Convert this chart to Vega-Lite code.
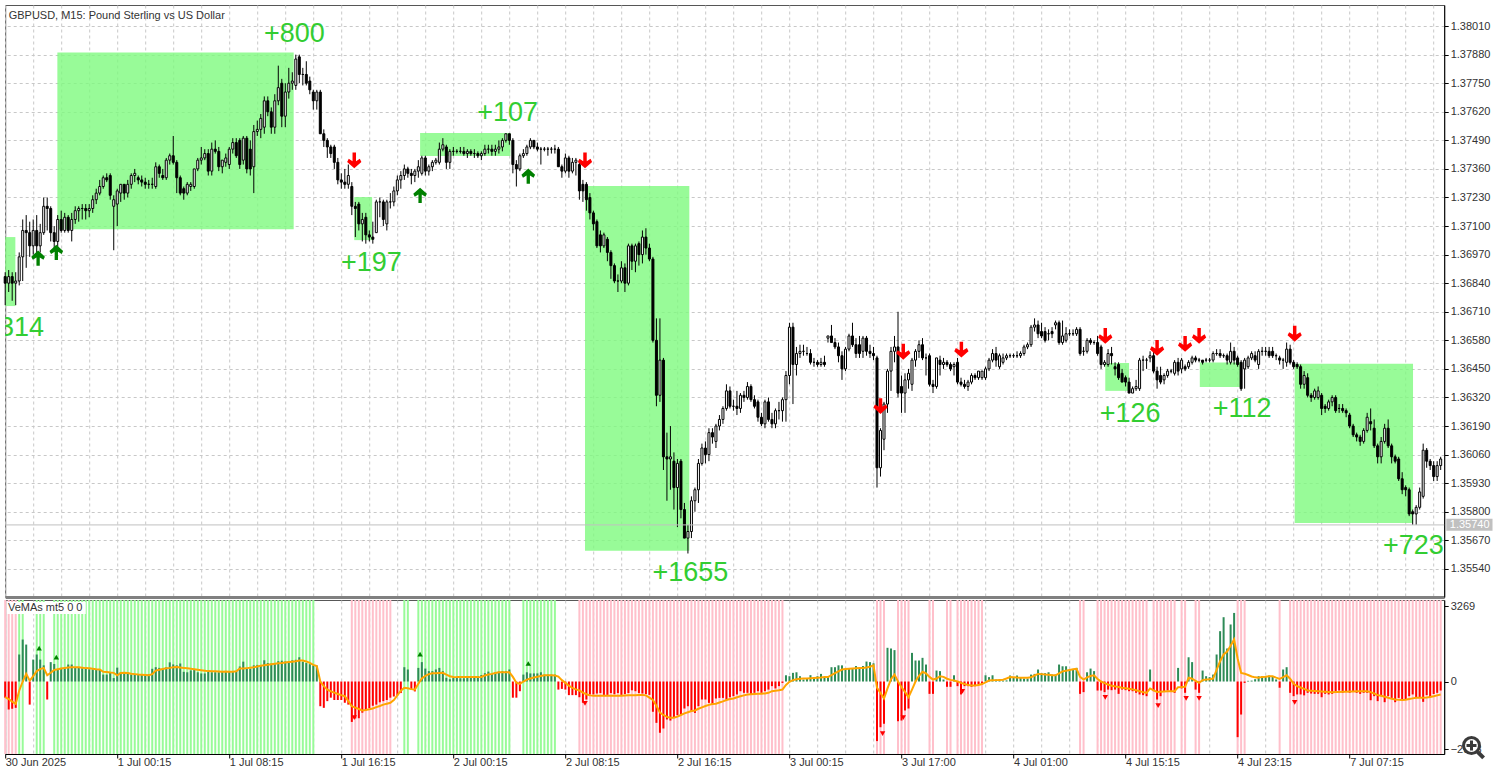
{"$schema":"https://vega.github.io/schema/vega-lite/v6.json","background":"white","padding":{"left":0.2,"top":4,"right":0,"bottom":0},"spacing":0,"config":{"view":{"stroke":"#555555","strokeWidth":1},"axis":{"labelFont":"Liberation Sans","labelFontSize":11,"labelColor":"#333333"}},
"datasets":{"bars":[
{"i":0,"o":1.3687,"h":1.3689,"l":1.3674,"c":1.3684,"v":-700,"m":-680,"s":-1},
{"i":1,"o":1.3684,"h":1.3690,"l":1.3680,"c":1.3687,"v":-1212,"m":-760,"s":-1},
{"i":2,"o":1.3687,"h":1.3689,"l":1.3676,"c":1.3684,"v":-1180,"m":-870,"s":-1},
{"i":3,"o":1.3684,"h":1.3689,"l":1.3674,"c":1.3685,"v":-1140,"m":-970,"s":-1},
{"i":4,"o":1.3685,"h":1.3698,"l":1.3683,"c":1.3696,"v":1170,"m":-400,"s":1},
{"i":5,"o":1.3696,"h":1.3713,"l":1.3685,"c":1.3708,"v":1818,"m":0,"s":1},
{"i":6,"o":1.3708,"h":1.3715,"l":1.3691,"c":1.3707,"v":1600,"m":330,"s":0},
{"i":7,"o":1.3707,"h":1.3712,"l":1.3696,"c":1.3701,"v":-1000,"m":40,"s":0},
{"i":8,"o":1.3701,"h":1.3713,"l":1.3697,"c":1.3708,"v":950,"m":230,"s":0},
{"i":9,"o":1.3708,"h":1.3715,"l":1.3697,"c":1.3701,"v":1170,"m":450,"s":1},
{"i":10,"o":1.3701,"h":1.3711,"l":1.3698,"c":1.3707,"v":950,"m":540,"s":1},
{"i":11,"o":1.3707,"h":1.3723,"l":1.3706,"c":1.3719,"v":700,"m":590,"s":1},
{"i":12,"o":1.3719,"h":1.3723,"l":1.3708,"c":1.3718,"v":-780,"m":270,"s":0},
{"i":13,"o":1.3718,"h":1.3719,"l":1.3703,"c":1.3707,"v":840,"m":380,"s":0},
{"i":14,"o":1.3707,"h":1.3710,"l":1.3699,"c":1.3703,"v":760,"m":500,"s":1},
{"i":15,"o":1.3703,"h":1.3715,"l":1.3699,"c":1.3713,"v":520,"m":530,"s":1},
{"i":16,"o":1.3713,"h":1.3717,"l":1.3707,"c":1.3708,"v":590,"m":560,"s":1},
{"i":17,"o":1.3708,"h":1.3716,"l":1.3707,"c":1.3714,"v":590,"m":590,"s":1},
{"i":18,"o":1.3714,"h":1.3715,"l":1.3707,"c":1.3708,"v":735,"m":610,"s":1},
{"i":19,"o":1.3708,"h":1.3716,"l":1.3703,"c":1.3713,"v":735,"m":620,"s":1},
{"i":20,"o":1.3713,"h":1.3719,"l":1.3711,"c":1.3717,"v":620,"m":620,"s":1},
{"i":21,"o":1.3717,"h":1.3719,"l":1.3712,"c":1.3718,"v":600,"m":620,"s":1},
{"i":22,"o":1.3718,"h":1.3720,"l":1.3713,"c":1.3718,"v":580,"m":600,"s":1},
{"i":23,"o":1.3718,"h":1.3720,"l":1.3713,"c":1.3717,"v":560,"m":580,"s":1},
{"i":24,"o":1.3717,"h":1.3720,"l":1.3714,"c":1.3718,"v":530,"m":570,"s":1},
{"i":25,"o":1.3718,"h":1.3724,"l":1.3716,"c":1.3722,"v":520,"m":550,"s":1},
{"i":26,"o":1.3722,"h":1.3727,"l":1.3720,"c":1.3725,"v":510,"m":530,"s":1},
{"i":27,"o":1.3725,"h":1.3731,"l":1.3724,"c":1.3728,"v":500,"m":520,"s":1},
{"i":28,"o":1.3728,"h":1.3733,"l":1.3727,"c":1.3732,"v":300,"m":420,"s":1},
{"i":29,"o":1.3732,"h":1.3734,"l":1.3730,"c":1.3731,"v":300,"m":410,"s":1},
{"i":30,"o":1.3733,"h":1.3734,"l":1.3722,"c":1.3724,"v":400,"m":390,"s":1},
{"i":31,"o":1.3719,"h":1.3724,"l":1.3699,"c":1.3722,"v":150,"m":375,"s":1},
{"i":32,"o":1.3720,"h":1.3727,"l":1.3710,"c":1.3726,"v":600,"m":270,"s":1},
{"i":33,"o":1.3725,"h":1.3729,"l":1.3721,"c":1.3729,"v":400,"m":370,"s":1},
{"i":34,"o":1.3729,"h":1.3729,"l":1.3722,"c":1.3725,"v":400,"m":375,"s":1},
{"i":35,"o":1.3725,"h":1.3731,"l":1.3723,"c":1.3729,"v":380,"m":370,"s":1},
{"i":36,"o":1.3729,"h":1.3734,"l":1.3727,"c":1.3733,"v":300,"m":340,"s":1},
{"i":37,"o":1.3733,"h":1.3736,"l":1.3730,"c":1.3734,"v":320,"m":320,"s":1},
{"i":38,"o":1.3732,"h":1.3733,"l":1.3729,"c":1.3731,"v":320,"m":300,"s":1},
{"i":39,"o":1.3731,"h":1.3733,"l":1.3728,"c":1.3730,"v":300,"m":290,"s":1},
{"i":40,"o":1.3730,"h":1.3732,"l":1.3727,"c":1.3729,"v":300,"m":280,"s":1},
{"i":41,"o":1.3729,"h":1.3731,"l":1.3727,"c":1.3729,"v":310,"m":270,"s":1},
{"i":42,"o":1.3729,"h":1.3732,"l":1.3727,"c":1.3729,"v":550,"m":320,"s":1},
{"i":43,"o":1.3728,"h":1.3739,"l":1.3727,"c":1.3737,"v":620,"m":475,"s":1},
{"i":44,"o":1.3737,"h":1.3738,"l":1.3732,"c":1.3734,"v":590,"m":510,"s":1},
{"i":45,"o":1.3733,"h":1.3736,"l":1.3731,"c":1.3732,"v":560,"m":540,"s":1},
{"i":46,"o":1.3732,"h":1.3741,"l":1.3731,"c":1.3740,"v":620,"m":570,"s":1},
{"i":47,"o":1.3740,"h":1.3743,"l":1.3738,"c":1.3742,"v":830,"m":590,"s":1},
{"i":48,"o":1.3742,"h":1.3751,"l":1.3738,"c":1.3739,"v":740,"m":620,"s":1},
{"i":49,"o":1.3739,"h":1.3740,"l":1.3725,"c":1.3732,"v":700,"m":625,"s":1},
{"i":50,"o":1.3732,"h":1.3733,"l":1.3724,"c":1.3725,"v":780,"m":610,"s":1},
{"i":51,"o":1.3727,"h":1.3728,"l":1.3722,"c":1.3725,"v":420,"m":590,"s":1},
{"i":52,"o":1.3725,"h":1.3730,"l":1.3724,"c":1.3729,"v":400,"m":570,"s":1},
{"i":53,"o":1.3728,"h":1.3730,"l":1.3726,"c":1.3729,"v":480,"m":550,"s":1},
{"i":54,"o":1.3728,"h":1.3736,"l":1.3727,"c":1.3736,"v":520,"m":530,"s":1},
{"i":55,"o":1.3736,"h":1.3741,"l":1.3735,"c":1.3740,"v":400,"m":510,"s":1},
{"i":56,"o":1.3740,"h":1.3746,"l":1.3738,"c":1.3741,"v":350,"m":490,"s":1},
{"i":57,"o":1.3741,"h":1.3745,"l":1.3740,"c":1.3743,"v":350,"m":470,"s":1},
{"i":58,"o":1.3743,"h":1.3745,"l":1.3733,"c":1.3735,"v":420,"m":450,"s":1},
{"i":59,"o":1.3735,"h":1.3748,"l":1.3733,"c":1.3745,"v":400,"m":440,"s":1},
{"i":60,"o":1.3745,"h":1.3749,"l":1.3743,"c":1.3744,"v":400,"m":440,"s":1},
{"i":61,"o":1.3744,"h":1.3746,"l":1.3735,"c":1.3737,"v":400,"m":430,"s":1},
{"i":62,"o":1.3737,"h":1.3740,"l":1.3734,"c":1.3740,"v":440,"m":420,"s":1},
{"i":63,"o":1.3739,"h":1.3743,"l":1.3737,"c":1.3741,"v":450,"m":430,"s":1},
{"i":64,"o":1.3738,"h":1.3746,"l":1.3736,"c":1.3745,"v":440,"m":420,"s":1},
{"i":65,"o":1.3745,"h":1.3750,"l":1.3743,"c":1.3748,"v":420,"m":420,"s":1},
{"i":66,"o":1.3748,"h":1.3750,"l":1.3741,"c":1.3742,"v":460,"m":440,"s":1},
{"i":67,"o":1.3749,"h":1.3750,"l":1.3736,"c":1.3738,"v":650,"m":560,"s":1},
{"i":68,"o":1.3740,"h":1.3751,"l":1.3738,"c":1.3750,"v":860,"m":560,"s":1},
{"i":69,"o":1.3750,"h":1.3751,"l":1.3734,"c":1.3736,"v":550,"m":580,"s":1},
{"i":70,"o":1.3745,"h":1.3749,"l":1.3733,"c":1.3736,"v":560,"m":600,"s":1},
{"i":71,"o":1.3737,"h":1.3756,"l":1.3725,"c":1.3753,"v":700,"m":620,"s":1},
{"i":72,"o":1.3753,"h":1.3758,"l":1.3751,"c":1.3754,"v":720,"m":650,"s":1},
{"i":73,"o":1.3754,"h":1.3761,"l":1.3750,"c":1.3759,"v":700,"m":680,"s":1},
{"i":74,"o":1.3755,"h":1.3769,"l":1.3752,"c":1.3767,"v":920,"m":700,"s":1},
{"i":75,"o":1.3767,"h":1.3769,"l":1.3760,"c":1.3762,"v":800,"m":730,"s":1},
{"i":76,"o":1.3762,"h":1.3764,"l":1.3752,"c":1.3755,"v":780,"m":750,"s":1},
{"i":77,"o":1.3755,"h":1.3770,"l":1.3752,"c":1.3767,"v":760,"m":770,"s":1},
{"i":78,"o":1.3767,"h":1.3783,"l":1.3765,"c":1.3773,"v":880,"m":790,"s":1},
{"i":79,"o":1.3775,"h":1.3777,"l":1.3755,"c":1.3760,"v":900,"m":800,"s":1},
{"i":80,"o":1.3760,"h":1.3775,"l":1.3755,"c":1.3771,"v":870,"m":820,"s":1},
{"i":81,"o":1.3771,"h":1.3782,"l":1.3768,"c":1.3775,"v":880,"m":840,"s":1},
{"i":82,"o":1.3775,"h":1.3780,"l":1.3772,"c":1.3776,"v":920,"m":860,"s":1},
{"i":83,"o":1.3774,"h":1.3788,"l":1.3772,"c":1.3786,"v":940,"m":880,"s":1},
{"i":84,"o":1.3787,"h":1.3788,"l":1.3775,"c":1.3779,"v":1050,"m":905,"s":1},
{"i":85,"o":1.3779,"h":1.3782,"l":1.3774,"c":1.3779,"v":850,"m":905,"s":1},
{"i":86,"o":1.3779,"h":1.3785,"l":1.3774,"c":1.3775,"v":800,"m":870,"s":1},
{"i":87,"o":1.3776,"h":1.3778,"l":1.3770,"c":1.3772,"v":750,"m":810,"s":1},
{"i":88,"o":1.3771,"h":1.3772,"l":1.3763,"c":1.3767,"v":690,"m":720,"s":1},
{"i":89,"o":1.3767,"h":1.3772,"l":1.3763,"c":1.3771,"v":690,"m":670,"s":0},
{"i":90,"o":1.3771,"h":1.3772,"l":1.3752,"c":1.3752,"v":-1070,"m":0,"s":0},
{"i":91,"o":1.3752,"h":1.3754,"l":1.3746,"c":1.3749,"v":-1140,"m":-200,"s":0},
{"i":92,"o":1.3749,"h":1.3750,"l":1.3741,"c":1.3746,"v":-850,"m":-350,"s":0},
{"i":93,"o":1.3746,"h":1.3747,"l":1.3741,"c":1.3743,"v":-700,"m":-420,"s":0},
{"i":94,"o":1.3746,"h":1.3747,"l":1.3736,"c":1.3739,"v":-800,"m":-480,"s":0},
{"i":95,"o":1.3739,"h":1.3741,"l":1.3729,"c":1.3731,"v":-800,"m":-540,"s":0},
{"i":96,"o":1.3731,"h":1.3734,"l":1.3727,"c":1.3730,"v":-800,"m":-590,"s":0},
{"i":97,"o":1.3730,"h":1.3736,"l":1.3727,"c":1.3729,"v":-920,"m":-635,"s":0},
{"i":98,"o":1.3729,"h":1.3738,"l":1.3727,"c":1.3733,"v":-1000,"m":-850,"s":0},
{"i":99,"o":1.3728,"h":1.3730,"l":1.3715,"c":1.3719,"v":-1750,"m":-1070,"s":-1},
{"i":100,"o":1.3719,"h":1.3721,"l":1.3705,"c":1.3718,"v":-1600,"m":-1130,"s":-1},
{"i":101,"o":1.3720,"h":1.3721,"l":1.3708,"c":1.3711,"v":-1590,"m":-1190,"s":-1},
{"i":102,"o":1.3711,"h":1.3716,"l":1.3703,"c":1.3713,"v":-1350,"m":-1255,"s":-1},
{"i":103,"o":1.3714,"h":1.3716,"l":1.3702,"c":1.3706,"v":-1250,"m":-1230,"s":-1},
{"i":104,"o":1.3706,"h":1.3708,"l":1.3703,"c":1.3705,"v":-1150,"m":-1200,"s":-1},
{"i":105,"o":1.3705,"h":1.3712,"l":1.3702,"c":1.3704,"v":-1050,"m":-1170,"s":-1},
{"i":106,"o":1.3707,"h":1.3722,"l":1.3707,"c":1.3721,"v":-1000,"m":-1110,"s":-1},
{"i":107,"o":1.3721,"h":1.3723,"l":1.3714,"c":1.3721,"v":-900,"m":-1060,"s":-1},
{"i":108,"o":1.3721,"h":1.3722,"l":1.3710,"c":1.3713,"v":-850,"m":-1000,"s":-1},
{"i":109,"o":1.3711,"h":1.3722,"l":1.3708,"c":1.3721,"v":-800,"m":-960,"s":-1},
{"i":110,"o":1.3721,"h":1.3725,"l":1.3718,"c":1.3721,"v":-700,"m":-920,"s":-1},
{"i":111,"o":1.3721,"h":1.3728,"l":1.3719,"c":1.3726,"v":-650,"m":-800,"s":0},
{"i":112,"o":1.3726,"h":1.3733,"l":1.3724,"c":1.3731,"v":-600,"m":-600,"s":0},
{"i":113,"o":1.3731,"h":1.3735,"l":1.3727,"c":1.3733,"v":-500,"m":-400,"s":0},
{"i":114,"o":1.3733,"h":1.3738,"l":1.3731,"c":1.3736,"v":620,"m":-270,"s":1},
{"i":115,"o":1.3736,"h":1.3737,"l":1.3732,"c":1.3734,"v":520,"m":-290,"s":1},
{"i":116,"o":1.3734,"h":1.3736,"l":1.3729,"c":1.3733,"v":-350,"m":-330,"s":0},
{"i":117,"o":1.3733,"h":1.3736,"l":1.3730,"c":1.3735,"v":-430,"m":-350,"s":0},
{"i":118,"o":1.3735,"h":1.3740,"l":1.3732,"c":1.3737,"v":590,"m":-100,"s":1},
{"i":119,"o":1.3734,"h":1.3742,"l":1.3733,"c":1.3741,"v":840,"m":130,"s":1},
{"i":120,"o":1.3741,"h":1.3742,"l":1.3733,"c":1.3735,"v":560,"m":240,"s":1},
{"i":121,"o":1.3735,"h":1.3738,"l":1.3733,"c":1.3737,"v":450,"m":320,"s":1},
{"i":122,"o":1.3737,"h":1.3740,"l":1.3735,"c":1.3739,"v":450,"m":360,"s":1},
{"i":123,"o":1.3739,"h":1.3741,"l":1.3738,"c":1.3740,"v":520,"m":360,"s":1},
{"i":124,"o":1.3739,"h":1.3748,"l":1.3738,"c":1.3745,"v":590,"m":370,"s":1},
{"i":125,"o":1.3745,"h":1.3750,"l":1.3744,"c":1.3747,"v":450,"m":375,"s":1},
{"i":126,"o":1.3746,"h":1.3747,"l":1.3736,"c":1.3739,"v":160,"m":300,"s":1},
{"i":127,"o":1.3739,"h":1.3745,"l":1.3736,"c":1.3744,"v":100,"m":230,"s":1},
{"i":128,"o":1.3744,"h":1.3746,"l":1.3742,"c":1.3744,"v":150,"m":200,"s":1},
{"i":129,"o":1.3744,"h":1.3745,"l":1.3743,"c":1.3744,"v":150,"m":190,"s":1},
{"i":130,"o":1.3744,"h":1.3746,"l":1.3743,"c":1.3744,"v":140,"m":190,"s":1},
{"i":131,"o":1.3744,"h":1.3746,"l":1.3742,"c":1.3743,"v":140,"m":190,"s":1},
{"i":132,"o":1.3743,"h":1.3745,"l":1.3741,"c":1.3744,"v":150,"m":190,"s":1},
{"i":133,"o":1.3744,"h":1.3745,"l":1.3742,"c":1.3743,"v":150,"m":190,"s":1},
{"i":134,"o":1.3743,"h":1.3745,"l":1.3741,"c":1.3743,"v":180,"m":190,"s":1},
{"i":135,"o":1.3743,"h":1.3744,"l":1.3741,"c":1.3742,"v":230,"m":190,"s":1},
{"i":136,"o":1.3742,"h":1.3744,"l":1.3740,"c":1.3743,"v":280,"m":200,"s":1},
{"i":137,"o":1.3743,"h":1.3747,"l":1.3742,"c":1.3745,"v":360,"m":260,"s":1},
{"i":138,"o":1.3745,"h":1.3747,"l":1.3743,"c":1.3745,"v":430,"m":300,"s":1},
{"i":139,"o":1.3745,"h":1.3747,"l":1.3742,"c":1.3744,"v":320,"m":330,"s":1},
{"i":140,"o":1.3744,"h":1.3747,"l":1.3742,"c":1.3745,"v":400,"m":370,"s":1},
{"i":141,"o":1.3745,"h":1.3749,"l":1.3743,"c":1.3746,"v":430,"m":400,"s":1},
{"i":142,"o":1.3746,"h":1.3750,"l":1.3744,"c":1.3749,"v":450,"m":400,"s":1},
{"i":143,"o":1.3749,"h":1.3752,"l":1.3748,"c":1.3752,"v":450,"m":400,"s":1},
{"i":144,"o":1.3752,"h":1.3752,"l":1.3747,"c":1.3749,"v":520,"m":400,"s":1},
{"i":145,"o":1.3749,"h":1.3750,"l":1.3734,"c":1.3738,"v":-700,"m":200,"s":0},
{"i":146,"o":1.3738,"h":1.3740,"l":1.3728,"c":1.3736,"v":-700,"m":-50,"s":0},
{"i":147,"o":1.3736,"h":1.3743,"l":1.3735,"c":1.3742,"v":-420,"m":-100,"s":0},
{"i":148,"o":1.3742,"h":1.3745,"l":1.3741,"c":1.3743,"v":300,"m":0,"s":1},
{"i":149,"o":1.3743,"h":1.3747,"l":1.3742,"c":1.3746,"v":400,"m":80,"s":1},
{"i":150,"o":1.3746,"h":1.3750,"l":1.3745,"c":1.3749,"v":350,"m":130,"s":1},
{"i":151,"o":1.3749,"h":1.3749,"l":1.3745,"c":1.3746,"v":350,"m":170,"s":1},
{"i":152,"o":1.3746,"h":1.3748,"l":1.3744,"c":1.3745,"v":350,"m":210,"s":1},
{"i":153,"o":1.3745,"h":1.3746,"l":1.3738,"c":1.3745,"v":400,"m":240,"s":1},
{"i":154,"o":1.3745,"h":1.3746,"l":1.3744,"c":1.3745,"v":300,"m":270,"s":1},
{"i":155,"o":1.3745,"h":1.3746,"l":1.3742,"c":1.3745,"v":300,"m":270,"s":1},
{"i":156,"o":1.3745,"h":1.3746,"l":1.3743,"c":1.3745,"v":300,"m":270,"s":1},
{"i":157,"o":1.3745,"h":1.3747,"l":1.3743,"c":1.3745,"v":300,"m":260,"s":1},
{"i":158,"o":1.3745,"h":1.3746,"l":1.3737,"c":1.3737,"v":-350,"m":210,"s":0},
{"i":159,"o":1.3737,"h":1.3738,"l":1.3732,"c":1.3735,"v":-320,"m":60,"s":0},
{"i":160,"o":1.3735,"h":1.3743,"l":1.3734,"c":1.3741,"v":-350,"m":-60,"s":0},
{"i":161,"o":1.3741,"h":1.3742,"l":1.3732,"c":1.3735,"v":-590,"m":-180,"s":0},
{"i":162,"o":1.3735,"h":1.3741,"l":1.3734,"c":1.3739,"v":-590,"m":-280,"s":0},
{"i":163,"o":1.3739,"h":1.3741,"l":1.3733,"c":1.3740,"v":-590,"m":-340,"s":0},
{"i":164,"o":1.3738,"h":1.3740,"l":1.3722,"c":1.3726,"v":-680,"m":-390,"s":-1},
{"i":165,"o":1.3729,"h":1.3731,"l":1.3721,"c":1.3726,"v":-920,"m":-480,"s":-1},
{"i":166,"o":1.3729,"h":1.3730,"l":1.3717,"c":1.3722,"v":-780,"m":-550,"s":-1},
{"i":167,"o":1.3723,"h":1.3725,"l":1.3713,"c":1.3716,"v":-560,"m":-600,"s":-1},
{"i":168,"o":1.3716,"h":1.3717,"l":1.3708,"c":1.3711,"v":-560,"m":-620,"s":-1},
{"i":169,"o":1.3712,"h":1.3713,"l":1.3700,"c":1.3701,"v":-520,"m":-620,"s":-1},
{"i":170,"o":1.3706,"h":1.3708,"l":1.3698,"c":1.3701,"v":-500,"m":-620,"s":-1},
{"i":171,"o":1.3701,"h":1.3707,"l":1.3700,"c":1.3706,"v":-580,"m":-620,"s":-1},
{"i":172,"o":1.3704,"h":1.3705,"l":1.3694,"c":1.3698,"v":-580,"m":-620,"s":-1},
{"i":173,"o":1.3698,"h":1.3699,"l":1.3686,"c":1.3692,"v":-500,"m":-620,"s":-1},
{"i":174,"o":1.3692,"h":1.3693,"l":1.3684,"c":1.3685,"v":-550,"m":-620,"s":-1},
{"i":175,"o":1.3685,"h":1.3688,"l":1.3680,"c":1.3685,"v":-500,"m":-620,"s":-1},
{"i":176,"o":1.3685,"h":1.3694,"l":1.3684,"c":1.3691,"v":-580,"m":-620,"s":-1},
{"i":177,"o":1.3691,"h":1.3693,"l":1.3680,"c":1.3684,"v":-540,"m":-610,"s":-1},
{"i":178,"o":1.3684,"h":1.3702,"l":1.3683,"c":1.3701,"v":-500,"m":-600,"s":-1},
{"i":179,"o":1.3701,"h":1.3702,"l":1.3690,"c":1.3694,"v":-380,"m":-590,"s":-1},
{"i":180,"o":1.3694,"h":1.3702,"l":1.3689,"c":1.3701,"v":-420,"m":-590,"s":-1},
{"i":181,"o":1.3702,"h":1.3703,"l":1.3692,"c":1.3697,"v":-500,"m":-580,"s":-1},
{"i":182,"o":1.3697,"h":1.3708,"l":1.3693,"c":1.3705,"v":-520,"m":-580,"s":-1},
{"i":183,"o":1.3705,"h":1.3709,"l":1.3697,"c":1.3700,"v":-540,"m":-600,"s":-1},
{"i":184,"o":1.3700,"h":1.3702,"l":1.3694,"c":1.3695,"v":-580,"m":-700,"s":-1},
{"i":185,"o":1.3695,"h":1.3696,"l":1.3657,"c":1.3658,"v":-1310,"m":-800,"s":-1},
{"i":186,"o":1.3658,"h":1.3668,"l":1.3628,"c":1.3633,"v":-1790,"m":-1050,"s":-1},
{"i":187,"o":1.3633,"h":1.3668,"l":1.3630,"c":1.3649,"v":-2220,"m":-1350,"s":-1},
{"i":188,"o":1.3649,"h":1.3650,"l":1.3599,"c":1.3605,"v":-2035,"m":-1450,"s":-1},
{"i":189,"o":1.3605,"h":1.3616,"l":1.3585,"c":1.3604,"v":-1645,"m":-1530,"s":-1},
{"i":190,"o":1.3604,"h":1.3619,"l":1.3590,"c":1.3605,"v":-1690,"m":-1570,"s":-1},
{"i":191,"o":1.3603,"h":1.3607,"l":1.3581,"c":1.3591,"v":-1540,"m":-1570,"s":-1},
{"i":192,"o":1.3591,"h":1.3604,"l":1.3573,"c":1.3602,"v":-1460,"m":-1520,"s":-1},
{"i":193,"o":1.3603,"h":1.3604,"l":1.3577,"c":1.3581,"v":-1430,"m":-1450,"s":-1},
{"i":194,"o":1.3581,"h":1.3584,"l":1.3568,"c":1.3568,"v":-1170,"m":-1380,"s":-1},
{"i":195,"o":1.3568,"h":1.3574,"l":1.3561,"c":1.3571,"v":-1070,"m":-1330,"s":-1},
{"i":196,"o":1.3571,"h":1.3587,"l":1.3568,"c":1.3585,"v":-1310,"m":-1280,"s":-1},
{"i":197,"o":1.3585,"h":1.3591,"l":1.3580,"c":1.3590,"v":-1360,"m":-1255,"s":-1},
{"i":198,"o":1.3590,"h":1.3604,"l":1.3584,"c":1.3602,"v":-1070,"m":-1180,"s":-1},
{"i":199,"o":1.3602,"h":1.3611,"l":1.3601,"c":1.3609,"v":-780,"m":-1120,"s":-1},
{"i":200,"o":1.3609,"h":1.3612,"l":1.3602,"c":1.3606,"v":-780,"m":-1060,"s":-1},
{"i":201,"o":1.3606,"h":1.3618,"l":1.3603,"c":1.3616,"v":-925,"m":-1010,"s":-1},
{"i":202,"o":1.3616,"h":1.3618,"l":1.3611,"c":1.3614,"v":-1000,"m":-970,"s":-1},
{"i":203,"o":1.3612,"h":1.3620,"l":1.3609,"c":1.3619,"v":-735,"m":-960,"s":-1},
{"i":204,"o":1.3619,"h":1.3624,"l":1.3617,"c":1.3622,"v":-710,"m":-910,"s":-1},
{"i":205,"o":1.3622,"h":1.3628,"l":1.3620,"c":1.3627,"v":-710,"m":-860,"s":-1},
{"i":206,"o":1.3627,"h":1.3638,"l":1.3626,"c":1.3635,"v":-780,"m":-800,"s":-1},
{"i":207,"o":1.3635,"h":1.3637,"l":1.3627,"c":1.3628,"v":-680,"m":-760,"s":-1},
{"i":208,"o":1.3628,"h":1.3631,"l":1.3626,"c":1.3628,"v":-635,"m":-735,"s":-1},
{"i":209,"o":1.3628,"h":1.3635,"l":1.3624,"c":1.3627,"v":-560,"m":-680,"s":-1},
{"i":210,"o":1.3627,"h":1.3634,"l":1.3625,"c":1.3633,"v":-420,"m":-640,"s":-1},
{"i":211,"o":1.3633,"h":1.3635,"l":1.3630,"c":1.3632,"v":-490,"m":-600,"s":-1},
{"i":212,"o":1.3632,"h":1.3639,"l":1.3631,"c":1.3637,"v":-490,"m":-560,"s":-1},
{"i":213,"o":1.3637,"h":1.3638,"l":1.3630,"c":1.3631,"v":-560,"m":-550,"s":-1},
{"i":214,"o":1.3631,"h":1.3633,"l":1.3627,"c":1.3628,"v":-490,"m":-540,"s":-1},
{"i":215,"o":1.3630,"h":1.3631,"l":1.3621,"c":1.3623,"v":-420,"m":-530,"s":-1},
{"i":216,"o":1.3623,"h":1.3625,"l":1.3619,"c":1.3620,"v":-490,"m":-525,"s":-1},
{"i":217,"o":1.3620,"h":1.3631,"l":1.3618,"c":1.3630,"v":-420,"m":-520,"s":-1},
{"i":218,"o":1.3630,"h":1.3632,"l":1.3621,"c":1.3622,"v":-350,"m":-490,"s":-1},
{"i":219,"o":1.3622,"h":1.3625,"l":1.3618,"c":1.3620,"v":-200,"m":-420,"s":-1},
{"i":220,"o":1.3620,"h":1.3627,"l":1.3618,"c":1.3626,"v":-300,"m":-400,"s":-1},
{"i":221,"o":1.3626,"h":1.3630,"l":1.3622,"c":1.3626,"v":-200,"m":-380,"s":-1},
{"i":222,"o":1.3626,"h":1.3632,"l":1.3621,"c":1.3631,"v":-60,"m":-350,"s":-1},
{"i":223,"o":1.3631,"h":1.3644,"l":1.3621,"c":1.3642,"v":270,"m":-150,"s":0},
{"i":224,"o":1.3642,"h":1.3666,"l":1.3638,"c":1.3664,"v":230,"m":-15,"s":0},
{"i":225,"o":1.3664,"h":1.3666,"l":1.3629,"c":1.3647,"v":375,"m":60,"s":0},
{"i":226,"o":1.3647,"h":1.3655,"l":1.3642,"c":1.3652,"v":400,"m":100,"s":0},
{"i":227,"o":1.3652,"h":1.3656,"l":1.3650,"c":1.3653,"v":230,"m":120,"s":0},
{"i":228,"o":1.3653,"h":1.3656,"l":1.3651,"c":1.3653,"v":85,"m":130,"s":0},
{"i":229,"o":1.3652,"h":1.3655,"l":1.3651,"c":1.3652,"v":130,"m":130,"s":0},
{"i":230,"o":1.3652,"h":1.3654,"l":1.3647,"c":1.3648,"v":275,"m":140,"s":0},
{"i":231,"o":1.3648,"h":1.3650,"l":1.3646,"c":1.3648,"v":190,"m":150,"s":0},
{"i":232,"o":1.3648,"h":1.3649,"l":1.3646,"c":1.3647,"v":230,"m":160,"s":0},
{"i":233,"o":1.3647,"h":1.3650,"l":1.3646,"c":1.3648,"v":330,"m":170,"s":0},
{"i":234,"o":1.3648,"h":1.3651,"l":1.3646,"c":1.3647,"v":190,"m":190,"s":0},
{"i":235,"o":1.3659,"h":1.3660,"l":1.3657,"c":1.3660,"v":190,"m":190,"s":0},
{"i":236,"o":1.3660,"h":1.3665,"l":1.3657,"c":1.3657,"v":620,"m":280,"s":0},
{"i":237,"o":1.3657,"h":1.3659,"l":1.3654,"c":1.3655,"v":620,"m":360,"s":0},
{"i":238,"o":1.3655,"h":1.3657,"l":1.3648,"c":1.3651,"v":700,"m":440,"s":0},
{"i":239,"o":1.3651,"h":1.3653,"l":1.3640,"c":1.3645,"v":700,"m":520,"s":0},
{"i":240,"o":1.3645,"h":1.3655,"l":1.3644,"c":1.3654,"v":560,"m":540,"s":0},
{"i":241,"o":1.3654,"h":1.3661,"l":1.3653,"c":1.3660,"v":560,"m":550,"s":0},
{"i":242,"o":1.3660,"h":1.3666,"l":1.3655,"c":1.3656,"v":560,"m":560,"s":0},
{"i":243,"o":1.3656,"h":1.3659,"l":1.3650,"c":1.3652,"v":670,"m":570,"s":0},
{"i":244,"o":1.3656,"h":1.3660,"l":1.3650,"c":1.3652,"v":560,"m":580,"s":0},
{"i":245,"o":1.3653,"h":1.3660,"l":1.3650,"c":1.3659,"v":670,"m":590,"s":0},
{"i":246,"o":1.3659,"h":1.3660,"l":1.3651,"c":1.3653,"v":865,"m":610,"s":0},
{"i":247,"o":1.3653,"h":1.3656,"l":1.3650,"c":1.3652,"v":840,"m":640,"s":0},
{"i":248,"o":1.3652,"h":1.3655,"l":1.3649,"c":1.3651,"v":790,"m":700,"s":0},
{"i":249,"o":1.3650,"h":1.3651,"l":1.3591,"c":1.3600,"v":-2580,"m":-270,"s":-1},
{"i":250,"o":1.3600,"h":1.3618,"l":1.3596,"c":1.3617,"v":-1980,"m":-500,"s":-1},
{"i":251,"o":1.3613,"h":1.3630,"l":1.3608,"c":1.3629,"v":-1830,"m":-735,"s":-1},
{"i":252,"o":1.3629,"h":1.3645,"l":1.3625,"c":1.3644,"v":1460,"m":-300,"s":0},
{"i":253,"o":1.3644,"h":1.3655,"l":1.3635,"c":1.3653,"v":1430,"m":100,"s":0},
{"i":254,"o":1.3653,"h":1.3660,"l":1.3648,"c":1.3655,"v":1360,"m":300,"s":0},
{"i":255,"o":1.3655,"h":1.3671,"l":1.3632,"c":1.3634,"v":-1720,"m":0,"s":-1},
{"i":256,"o":1.3637,"h":1.3642,"l":1.3625,"c":1.3634,"v":-1690,"m":-250,"s":-1},
{"i":257,"o":1.3634,"h":1.3643,"l":1.3625,"c":1.3640,"v":-1255,"m":-450,"s":-1},
{"i":258,"o":1.3640,"h":1.3645,"l":1.3636,"c":1.3643,"v":-1170,"m":-680,"s":-1},
{"i":259,"o":1.3638,"h":1.3650,"l":1.3635,"c":1.3649,"v":1240,"m":-350,"s":0},
{"i":260,"o":1.3649,"h":1.3654,"l":1.3646,"c":1.3653,"v":910,"m":0,"s":0},
{"i":261,"o":1.3653,"h":1.3658,"l":1.3650,"c":1.3656,"v":910,"m":250,"s":0},
{"i":262,"o":1.3656,"h":1.3659,"l":1.3649,"c":1.3650,"v":1025,"m":420,"s":0},
{"i":263,"o":1.3650,"h":1.3652,"l":1.3642,"c":1.3650,"v":735,"m":350,"s":0},
{"i":264,"o":1.3651,"h":1.3652,"l":1.3637,"c":1.3638,"v":-535,"m":200,"s":-1},
{"i":265,"o":1.3638,"h":1.3640,"l":1.3634,"c":1.3637,"v":-535,"m":85,"s":-1},
{"i":266,"o":1.3637,"h":1.3650,"l":1.3636,"c":1.3650,"v":475,"m":130,"s":0},
{"i":267,"o":1.3649,"h":1.3651,"l":1.3642,"c":1.3647,"v":450,"m":230,"s":0},
{"i":268,"o":1.3647,"h":1.3650,"l":1.3645,"c":1.3648,"v":85,"m":200,"s":0},
{"i":269,"o":1.3648,"h":1.3649,"l":1.3646,"c":1.3647,"v":-230,"m":120,"s":-1},
{"i":270,"o":1.3647,"h":1.3648,"l":1.3644,"c":1.3645,"v":-230,"m":70,"s":-1},
{"i":271,"o":1.3646,"h":1.3648,"l":1.3642,"c":1.3647,"v":270,"m":40,"s":0},
{"i":272,"o":1.3648,"h":1.3650,"l":1.3638,"c":1.3639,"v":-200,"m":0,"s":-1},
{"i":273,"o":1.3639,"h":1.3641,"l":1.3637,"c":1.3638,"v":-560,"m":-60,"s":-1},
{"i":274,"o":1.3638,"h":1.3640,"l":1.3636,"c":1.3637,"v":-200,"m":-110,"s":-1},
{"i":275,"o":1.3637,"h":1.3640,"l":1.3635,"c":1.3639,"v":-200,"m":-150,"s":-1},
{"i":276,"o":1.3639,"h":1.3643,"l":1.3638,"c":1.3642,"v":-230,"m":-170,"s":-1},
{"i":277,"o":1.3642,"h":1.3643,"l":1.3640,"c":1.3641,"v":-200,"m":-170,"s":-1},
{"i":278,"o":1.3641,"h":1.3644,"l":1.3640,"c":1.3644,"v":-130,"m":-150,"s":-1},
{"i":279,"o":1.3641,"h":1.3644,"l":1.3640,"c":1.3644,"v":-130,"m":-110,"s":-1},
{"i":280,"o":1.3641,"h":1.3646,"l":1.3640,"c":1.3645,"v":270,"m":-40,"s":0},
{"i":281,"o":1.3645,"h":1.3650,"l":1.3644,"c":1.3649,"v":190,"m":40,"s":0},
{"i":282,"o":1.3649,"h":1.3654,"l":1.3648,"c":1.3652,"v":270,"m":50,"s":0},
{"i":283,"o":1.3652,"h":1.3655,"l":1.3646,"c":1.3649,"v":85,"m":60,"s":0},
{"i":284,"o":1.3646,"h":1.3652,"l":1.3645,"c":1.3651,"v":40,"m":70,"s":0},
{"i":285,"o":1.3648,"h":1.3652,"l":1.3647,"c":1.3650,"v":40,"m":80,"s":0},
{"i":286,"o":1.3650,"h":1.3652,"l":1.3649,"c":1.3651,"v":50,"m":130,"s":0},
{"i":287,"o":1.3651,"h":1.3652,"l":1.3650,"c":1.3651,"v":260,"m":190,"s":0},
{"i":288,"o":1.3651,"h":1.3652,"l":1.3650,"c":1.3651,"v":190,"m":185,"s":0},
{"i":289,"o":1.3651,"h":1.3653,"l":1.3650,"c":1.3651,"v":260,"m":170,"s":0},
{"i":290,"o":1.3651,"h":1.3653,"l":1.3650,"c":1.3652,"v":190,"m":160,"s":0},
{"i":291,"o":1.3652,"h":1.3656,"l":1.3651,"c":1.3655,"v":130,"m":160,"s":0},
{"i":292,"o":1.3655,"h":1.3657,"l":1.3654,"c":1.3656,"v":130,"m":160,"s":0},
{"i":293,"o":1.3656,"h":1.3665,"l":1.3655,"c":1.3664,"v":300,"m":180,"s":0},
{"i":294,"o":1.3664,"h":1.3668,"l":1.3662,"c":1.3665,"v":330,"m":260,"s":0},
{"i":295,"o":1.3665,"h":1.3667,"l":1.3659,"c":1.3661,"v":520,"m":330,"s":0},
{"i":296,"o":1.3662,"h":1.3666,"l":1.3659,"c":1.3660,"v":360,"m":320,"s":0},
{"i":297,"o":1.3662,"h":1.3664,"l":1.3657,"c":1.3658,"v":360,"m":300,"s":0},
{"i":298,"o":1.3661,"h":1.3663,"l":1.3658,"c":1.3661,"v":400,"m":290,"s":0},
{"i":299,"o":1.3662,"h":1.3664,"l":1.3659,"c":1.3661,"v":300,"m":270,"s":0},
{"i":300,"o":1.3665,"h":1.3667,"l":1.3663,"c":1.3666,"v":300,"m":270,"s":0},
{"i":301,"o":1.3666,"h":1.3667,"l":1.3656,"c":1.3657,"v":735,"m":350,"s":0},
{"i":302,"o":1.3657,"h":1.3667,"l":1.3656,"c":1.3660,"v":660,"m":440,"s":0},
{"i":303,"o":1.3658,"h":1.3664,"l":1.3657,"c":1.3661,"v":660,"m":470,"s":0},
{"i":304,"o":1.3661,"h":1.3663,"l":1.3660,"c":1.3661,"v":520,"m":500,"s":0},
{"i":305,"o":1.3661,"h":1.3663,"l":1.3660,"c":1.3661,"v":520,"m":530,"s":0},
{"i":306,"o":1.3661,"h":1.3664,"l":1.3660,"c":1.3663,"v":590,"m":550,"s":0},
{"i":307,"o":1.3663,"h":1.3664,"l":1.3651,"c":1.3652,"v":-535,"m":200,"s":-1},
{"i":308,"o":1.3653,"h":1.3655,"l":1.3651,"c":1.3653,"v":-460,"m":85,"s":-1},
{"i":309,"o":1.3653,"h":1.3659,"l":1.3652,"c":1.3658,"v":400,"m":180,"s":0},
{"i":310,"o":1.3658,"h":1.3659,"l":1.3656,"c":1.3657,"v":560,"m":240,"s":0},
{"i":311,"o":1.3657,"h":1.3658,"l":1.3656,"c":1.3657,"v":450,"m":270,"s":0},
{"i":312,"o":1.3657,"h":1.3660,"l":1.3651,"c":1.3652,"v":-390,"m":110,"s":-1},
{"i":313,"o":1.3655,"h":1.3656,"l":1.3645,"c":1.3647,"v":-390,"m":0,"s":-1},
{"i":314,"o":1.3647,"h":1.3649,"l":1.3646,"c":1.3648,"v":-460,"m":-70,"s":-1},
{"i":315,"o":1.3647,"h":1.3654,"l":1.3646,"c":1.3652,"v":-350,"m":-130,"s":-1},
{"i":316,"o":1.3652,"h":1.3655,"l":1.3647,"c":1.3651,"v":-375,"m":-180,"s":-1},
{"i":317,"o":1.3646,"h":1.3648,"l":1.3642,"c":1.3645,"v":-350,"m":-210,"s":-1},
{"i":318,"o":1.3647,"h":1.3648,"l":1.3640,"c":1.3641,"v":-535,"m":-240,"s":-1},
{"i":319,"o":1.3643,"h":1.3645,"l":1.3639,"c":1.3639,"v":-350,"m":-270,"s":-1},
{"i":320,"o":1.3641,"h":1.3642,"l":1.3637,"c":1.3639,"v":-375,"m":-290,"s":-1},
{"i":321,"o":1.3639,"h":1.3641,"l":1.3634,"c":1.3634,"v":-420,"m":-310,"s":-1},
{"i":322,"o":1.3634,"h":1.3637,"l":1.3634,"c":1.3636,"v":-420,"m":-340,"s":-1},
{"i":323,"o":1.3636,"h":1.3640,"l":1.3635,"c":1.3637,"v":-490,"m":-380,"s":-1},
{"i":324,"o":1.3636,"h":1.3650,"l":1.3635,"c":1.3649,"v":-560,"m":-420,"s":-1},
{"i":325,"o":1.3649,"h":1.3651,"l":1.3644,"c":1.3649,"v":-590,"m":-460,"s":-1},
{"i":326,"o":1.3649,"h":1.3650,"l":1.3645,"c":1.3649,"v":-635,"m":-490,"s":-1},
{"i":327,"o":1.3650,"h":1.3653,"l":1.3648,"c":1.3651,"v":520,"m":-300,"s":0},
{"i":328,"o":1.3651,"h":1.3654,"l":1.3643,"c":1.3644,"v":-420,"m":-380,"s":-1},
{"i":329,"o":1.3644,"h":1.3646,"l":1.3636,"c":1.3640,"v":-780,"m":-450,"s":-1},
{"i":330,"o":1.3642,"h":1.3646,"l":1.3638,"c":1.3639,"v":-635,"m":-440,"s":-1},
{"i":331,"o":1.3640,"h":1.3643,"l":1.3638,"c":1.3642,"v":-420,"m":-430,"s":-1},
{"i":332,"o":1.3642,"h":1.3645,"l":1.3641,"c":1.3644,"v":-390,"m":-425,"s":-1},
{"i":333,"o":1.3644,"h":1.3645,"l":1.3643,"c":1.3644,"v":-420,"m":-420,"s":-1},
{"i":334,"o":1.3643,"h":1.3649,"l":1.3642,"c":1.3648,"v":-490,"m":-420,"s":-1},
{"i":335,"o":1.3648,"h":1.3650,"l":1.3642,"c":1.3644,"v":590,"m":-245,"s":0},
{"i":336,"o":1.3645,"h":1.3650,"l":1.3643,"c":1.3649,"v":-300,"m":-240,"s":-1},
{"i":337,"o":1.3646,"h":1.3647,"l":1.3644,"c":1.3645,"v":-490,"m":-230,"s":-1},
{"i":338,"o":1.3646,"h":1.3649,"l":1.3645,"c":1.3648,"v":1050,"m":160,"s":0},
{"i":339,"o":1.3648,"h":1.3651,"l":1.3647,"c":1.3650,"v":840,"m":120,"s":0},
{"i":340,"o":1.3650,"h":1.3651,"l":1.3648,"c":1.3649,"v":-350,"m":30,"s":-1},
{"i":341,"o":1.3649,"h":1.3650,"l":1.3648,"c":1.3649,"v":-490,"m":-60,"s":-1},
{"i":342,"o":1.3649,"h":1.3649,"l":1.3647,"c":1.3648,"v":475,"m":60,"s":0},
{"i":343,"o":1.3649,"h":1.3650,"l":1.3648,"c":1.3649,"v":230,"m":85,"s":0},
{"i":344,"o":1.3649,"h":1.3650,"l":1.3648,"c":1.3649,"v":190,"m":100,"s":0},
{"i":345,"o":1.3649,"h":1.3653,"l":1.3648,"c":1.3652,"v":300,"m":130,"s":0},
{"i":346,"o":1.3652,"h":1.3654,"l":1.3651,"c":1.3652,"v":1170,"m":500,"s":0},
{"i":347,"o":1.3652,"h":1.3654,"l":1.3650,"c":1.3651,"v":2180,"m":880,"s":0},
{"i":348,"o":1.3651,"h":1.3652,"l":1.3650,"c":1.3651,"v":2785,"m":1170,"s":0},
{"i":349,"o":1.3651,"h":1.3652,"l":1.3647,"c":1.3649,"v":1430,"m":1300,"s":0},
{"i":350,"o":1.3648,"h":1.3657,"l":1.3647,"c":1.3653,"v":2470,"m":1550,"s":0},
{"i":351,"o":1.3653,"h":1.3655,"l":1.3647,"c":1.3649,"v":2970,"m":1820,"s":0},
{"i":352,"o":1.3650,"h":1.3651,"l":1.3646,"c":1.3647,"v":-2410,"m":1000,"s":-1},
{"i":353,"o":1.3648,"h":1.3649,"l":1.3635,"c":1.3636,"v":-1430,"m":375,"s":-1},
{"i":354,"o":1.3645,"h":1.3650,"l":1.3636,"c":1.3649,"v":-60,"m":340,"s":-1},
{"i":355,"o":1.3646,"h":1.3651,"l":1.3645,"c":1.3650,"v":30,"m":280,"s":0},
{"i":356,"o":1.3650,"h":1.3653,"l":1.3649,"c":1.3652,"v":40,"m":220,"s":0},
{"i":357,"o":1.3651,"h":1.3653,"l":1.3648,"c":1.3649,"v":100,"m":180,"s":0},
{"i":358,"o":1.3647,"h":1.3654,"l":1.3645,"c":1.3653,"v":230,"m":160,"s":0},
{"i":359,"o":1.3653,"h":1.3655,"l":1.3651,"c":1.3653,"v":230,"m":200,"s":0},
{"i":360,"o":1.3653,"h":1.3655,"l":1.3651,"c":1.3653,"v":230,"m":210,"s":0},
{"i":361,"o":1.3653,"h":1.3655,"l":1.3650,"c":1.3651,"v":260,"m":225,"s":0},
{"i":362,"o":1.3653,"h":1.3655,"l":1.3650,"c":1.3651,"v":230,"m":230,"s":0},
{"i":363,"o":1.3651,"h":1.3652,"l":1.3649,"c":1.3651,"v":90,"m":170,"s":0},
{"i":364,"o":1.3650,"h":1.3651,"l":1.3647,"c":1.3649,"v":-270,"m":115,"s":-1},
{"i":365,"o":1.3649,"h":1.3650,"l":1.3645,"c":1.3649,"v":520,"m":190,"s":0},
{"i":366,"o":1.3648,"h":1.3657,"l":1.3646,"c":1.3654,"v":620,"m":270,"s":0},
{"i":367,"o":1.3654,"h":1.3656,"l":1.3647,"c":1.3648,"v":-490,"m":120,"s":-1},
{"i":368,"o":1.3648,"h":1.3649,"l":1.3645,"c":1.3646,"v":-635,"m":-100,"s":-1},
{"i":369,"o":1.3647,"h":1.3648,"l":1.3645,"c":1.3646,"v":-560,"m":-200,"s":-1},
{"i":370,"o":1.3646,"h":1.3647,"l":1.3636,"c":1.3638,"v":-560,"m":-260,"s":-1},
{"i":371,"o":1.3638,"h":1.3644,"l":1.3636,"c":1.3642,"v":-600,"m":-320,"s":-1},
{"i":372,"o":1.3641,"h":1.3643,"l":1.3632,"c":1.3633,"v":-490,"m":-390,"s":-1},
{"i":373,"o":1.3633,"h":1.3634,"l":1.3630,"c":1.3632,"v":-520,"m":-400,"s":-1},
{"i":374,"o":1.3632,"h":1.3636,"l":1.3631,"c":1.3635,"v":-535,"m":-410,"s":-1},
{"i":375,"o":1.3632,"h":1.3637,"l":1.3631,"c":1.3635,"v":-535,"m":-420,"s":-1},
{"i":376,"o":1.3633,"h":1.3634,"l":1.3624,"c":1.3627,"v":-680,"m":-430,"s":-1},
{"i":377,"o":1.3628,"h":1.3629,"l":1.3625,"c":1.3627,"v":-535,"m":-440,"s":-1},
{"i":378,"o":1.3627,"h":1.3631,"l":1.3626,"c":1.3630,"v":-560,"m":-450,"s":-1},
{"i":379,"o":1.3630,"h":1.3633,"l":1.3628,"c":1.3632,"v":-535,"m":-460,"s":-1},
{"i":380,"o":1.3632,"h":1.3633,"l":1.3625,"c":1.3626,"v":-420,"m":-455,"s":-1},
{"i":381,"o":1.3627,"h":1.3629,"l":1.3625,"c":1.3627,"v":-390,"m":-450,"s":-1},
{"i":382,"o":1.3627,"h":1.3629,"l":1.3625,"c":1.3626,"v":-490,"m":-445,"s":-1},
{"i":383,"o":1.3626,"h":1.3627,"l":1.3623,"c":1.3625,"v":-450,"m":-440,"s":-1},
{"i":384,"o":1.3624,"h":1.3625,"l":1.3618,"c":1.3619,"v":-490,"m":-430,"s":-1},
{"i":385,"o":1.3619,"h":1.3620,"l":1.3614,"c":1.3615,"v":-420,"m":-430,"s":-1},
{"i":386,"o":1.3615,"h":1.3616,"l":1.3612,"c":1.3614,"v":-490,"m":-425,"s":-1},
{"i":387,"o":1.3614,"h":1.3615,"l":1.3610,"c":1.3612,"v":-535,"m":-420,"s":-1},
{"i":388,"o":1.3612,"h":1.3618,"l":1.3611,"c":1.3617,"v":-490,"m":-420,"s":-1},
{"i":389,"o":1.3617,"h":1.3625,"l":1.3616,"c":1.3623,"v":-490,"m":-420,"s":-1},
{"i":390,"o":1.3621,"h":1.3627,"l":1.3617,"c":1.3620,"v":-810,"m":-460,"s":-1},
{"i":391,"o":1.3618,"h":1.3622,"l":1.3609,"c":1.3610,"v":-635,"m":-520,"s":-1},
{"i":392,"o":1.3610,"h":1.3611,"l":1.3602,"c":1.3605,"v":-850,"m":-590,"s":-1},
{"i":393,"o":1.3605,"h":1.3614,"l":1.3602,"c":1.3612,"v":-635,"m":-620,"s":-1},
{"i":394,"o":1.3612,"h":1.3620,"l":1.3611,"c":1.3618,"v":-895,"m":-660,"s":-1},
{"i":395,"o":1.3618,"h":1.3622,"l":1.3609,"c":1.3610,"v":-635,"m":-700,"s":-1},
{"i":396,"o":1.3610,"h":1.3611,"l":1.3602,"c":1.3605,"v":-710,"m":-750,"s":-1},
{"i":397,"o":1.3605,"h":1.3606,"l":1.3602,"c":1.3603,"v":-895,"m":-780,"s":-1},
{"i":398,"o":1.3604,"h":1.3605,"l":1.3594,"c":1.3595,"v":-710,"m":-795,"s":-1},
{"i":399,"o":1.3595,"h":1.3598,"l":1.3588,"c":1.3590,"v":-780,"m":-800,"s":-1},
{"i":400,"o":1.3591,"h":1.3592,"l":1.3587,"c":1.3590,"v":-780,"m":-790,"s":-1},
{"i":401,"o":1.3590,"h":1.3591,"l":1.3578,"c":1.3579,"v":-635,"m":-760,"s":-1},
{"i":402,"o":1.3580,"h":1.3581,"l":1.3574,"c":1.3579,"v":-560,"m":-730,"s":-1},
{"i":403,"o":1.3579,"h":1.3583,"l":1.3574,"c":1.3582,"v":-680,"m":-700,"s":-1},
{"i":404,"o":1.3582,"h":1.3591,"l":1.3581,"c":1.3589,"v":-710,"m":-700,"s":-1},
{"i":405,"o":1.3587,"h":1.3611,"l":1.3586,"c":1.3608,"v":-880,"m":-700,"s":-1},
{"i":406,"o":1.3608,"h":1.3609,"l":1.3600,"c":1.3603,"v":-590,"m":-690,"s":-1},
{"i":407,"o":1.3603,"h":1.3604,"l":1.3599,"c":1.3601,"v":-680,"m":-670,"s":-1},
{"i":408,"o":1.3601,"h":1.3603,"l":1.3594,"c":1.3596,"v":-540,"m":-640,"s":-1},
{"i":409,"o":1.3596,"h":1.3603,"l":1.3594,"c":1.3601,"v":-490,"m":-600,"s":-1},
{"i":410,"o":1.3601,"h":1.3605,"l":1.3599,"c":1.3604,"v":-390,"m":-560,"s":-1}],
"boxes":[{"a":0,"b":2.9,"t":1.3705,"u":1.36736,"n":"+314","x":2.4,"y":1.36636},{"a":14.9,"b":82.4,"t":1.3789,"u":1.37085,"n":"+800","x":82.6,"y":1.37974},{"a":99.7,"b":104.8,"t":1.37232,"u":1.37036,"n":"+197","x":104.6,"y":1.36933},{"a":118.5,"b":144.3,"t":1.37524,"u":1.37419,"n":"+107","x":143.5,"y":1.37614},{"a":165.6,"b":195.4,"t":1.37282,"u":1.35622,"n":"+1655","x":195.7,"y":1.3552},{"a":314.2,"b":321,"t":1.36477,"u":1.3635,"n":"+126","x":321.3,"y":1.36243},{"a":341.2,"b":353.1,"t":1.36479,"u":1.36368,"n":"+112","x":353.3,"y":1.36267},{"a":368.3,"b":402.1,"t":1.36473,"u":1.35749,"n":"+723","x":402.2,"y":1.35644}],
"up":[{"i":9.4,"p":1.36954},{"i":14.6,"p":1.3698},{"i":118.5,"p":1.3724},{"i":149.4,"p":1.37327}],
"down":[{"i":99.7,"p":1.37399},{"i":165.6,"p":1.37399},{"i":256.5,"p":1.36528},{"i":250,"p":1.36281},{"i":273.1,"p":1.36538},{"i":314.2,"p":1.366},{"i":329,"p":1.36546},{"i":337,"p":1.36564},{"i":341,"p":1.366},{"i":368.3,"p":1.3661}],
"upm":[{"i":9.7,"v":1450},{"i":14.6,"v":1060},{"i":118.5,"v":1190},{"i":149.4,"v":780}],
"downm":[{"i":99.7,"v":-1560},{"i":165.6,"v":-950},{"i":250.6,"v":-2260},{"i":256.5,"v":-1560},{"i":273.4,"v":-430},{"i":314.2,"v":-690},{"i":329.3,"v":-1040},{"i":337.3,"v":-730},{"i":341,"v":-730},{"i":368.3,"v":-900}]},
"vconcat":[{"width":1439,"height":592,"layer":[
{"data":{"name":"boxes"},"mark":{"type":"rect","fill":"#7EFA7E","opacity":0.8},"encoding":{"x":{"field":"a","type":"quantitative","scale":{"domain":[0,411],"nice":false,"zero":false,"padding":0},"axis":{"tickCount":100,"values":[0,8,16,24,32,40,48,56,64,72,80,88,96,104,112,120,128,136,144,152,160,168,176,184,192,200,208,216,224,232,240,248,256,264,272,280,288,296,304,312,320,328,336,344,352,360,368,376,384,392,400,408],"grid":true,"gridDash":[3,3],"gridColor":"#C8C8C8","labels":false,"ticks":false,"domainColor":"#808080","domainWidth":3,"title":null}},"x2":{"field":"b"},"y":{"field":"t","type":"quantitative","scale":{"domain":[1.35412,1.38106],"nice":false,"zero":false,"padding":0},"axis":{"orient":"right","tickCount":100,"values":[1.3801,1.3788,1.3775,1.3762,1.3749,1.3736,1.3723,1.371,1.3697,1.3684,1.3671,1.3658,1.3645,1.3632,1.3619,1.3606,1.3593,1.358,1.3567,1.3554],"format":".5f","grid":true,"gridDash":[3,3],"gridColor":"#C8C8C8","tickSize":4,"tickColor":"#000000","domainColor":"#000000","title":null,"labelPadding":2,"labelOverlap":false}},"y2":{"field":"u"}}},
{"data":{"name":"bars"},"mark":{"type":"rule","color":"#000000","strokeWidth":1},"encoding":{"x":{"field":"i","type":"quantitative"},"y":{"field":"h","type":"quantitative"},"y2":{"field":"l"}}},
{"data":{"name":"bars"},"mark":{"type":"bar","size":2,"stroke":"#000000","strokeWidth":1},"encoding":{"x":{"field":"i","type":"quantitative"},"y":{"field":"o","type":"quantitative"},"y2":{"field":"c"},"fill":{"condition":{"test":"datum.c>=datum.o","value":"#FFFFFF"},"value":"#000000"}}},
{"data":{"name":"boxes"},"mark":{"type":"text","font":"Liberation Sans","fontSize":27,"color":"#32CD32","clip":true},"encoding":{"x":{"field":"x","type":"quantitative"},"y":{"field":"y","type":"quantitative"},"text":{"field":"n"}}},
{"data":{"name":"up"},"mark":{"type":"point","shape":"M-0.22,1 L0.22,1 L0.22,-0.1 L0.7,0.2 L0.9,-0.2 L0,-1 L-0.9,-0.2 L-0.7,0.2 L-0.22,-0.1 Z","filled":true,"color":"#008000","opacity":1,"size":230},"encoding":{"x":{"field":"i","type":"quantitative"},"y":{"field":"p","type":"quantitative"}}},
{"data":{"name":"down"},"mark":{"type":"point","shape":"M-0.22,-1 L0.22,-1 L0.22,0.1 L0.7,-0.2 L0.9,0.2 L0,1 L-0.9,0.2 L-0.7,-0.2 L-0.22,0.1 Z","filled":true,"color":"#FF0000","opacity":1,"size":250},"encoding":{"x":{"field":"i","type":"quantitative"},"y":{"field":"p","type":"quantitative"}}},
{"data":{"values":[{"p":1.3574}]},"mark":{"type":"rule","color":"#C0C0C0"},"encoding":{"y":{"field":"p","type":"quantitative"}}},
{"data":{"values":[{"a":411.6,"b":424.8,"t":1.35768,"u":1.35713}]},"mark":{"type":"rect","fill":"#C0C0C0","clip":false},"encoding":{"x":{"field":"a","type":"quantitative"},"x2":{"field":"b"},"y":{"field":"t","type":"quantitative"},"y2":{"field":"u"}}},
{"data":{"values":[{"i":412.6,"p":1.3574,"n":"1.35740"}]},"mark":{"type":"text","font":"Liberation Sans","fontSize":11,"color":"#FFFFFF","align":"left"},"encoding":{"x":{"field":"i","type":"quantitative"},"y":{"field":"p","type":"quantitative"},"text":{"field":"n"}}},
{"data":{"values":[{"i":1,"p":1.38055,"n":"GBPUSD, M15:  Pound Sterling vs US Dollar"}]},"mark":{"type":"text","font":"Liberation Sans","fontSize":11,"color":"#333333","align":"left"},"encoding":{"x":{"field":"i","type":"quantitative"},"y":{"field":"p","type":"quantitative"},"text":{"field":"n"}}}
]},
{"width":1439,"height":154,"layer":[
{"data":{"name":"bars"},"transform":[{"filter":"datum.s!=0"}],"mark":{"type":"rule","strokeWidth":2},"encoding":{"x":{"field":"i","type":"quantitative","scale":{"domain":[0,411],"nice":false,"zero":false,"padding":0},"axis":{"tickCount":100,"values":[0,8,16,24,32,40,48,56,64,72,80,88,96,104,112,120,128,136,144,152,160,168,176,184,192,200,208,216,224,232,240,248,256,264,272,280,288,296,304,312,320,328,336,344,352,360,368,376,384,392,400,408],"grid":true,"gridDash":[3,3],"gridColor":"#C8C8C8","labelExpr":"datum.value%32==0?['30 Jun 2025','1 Jul 00:15','1 Jul 08:15','1 Jul 16:15','2 Jul 00:15','2 Jul 08:15','2 Jul 16:15','3 Jul 00:15','3 Jul 17:00','4 Jul 01:00','4 Jul 15:15','4 Jul 23:15','7 Jul 07:15'][datum.value/32]:''","labelAlign":"left","labelPadding":-1,"tickSize":4,"tickOpacity":{"condition":{"test":"datum.value%32==0","value":1},"value":0},"tickColor":"#000000","domainColor":"#000000","title":null,"labelOverlap":false,"labelFlush":false}},"y":{"datum":3530,"type":"quantitative","scale":{"domain":[-3139,3530],"nice":false,"zero":false,"padding":0},"axis":{"orient":"right","values":[3269,0,-2923],"format":"d","grid":false,"tickSize":4,"tickColor":"#000000","domainColor":"#000000","title":null,"labelPadding":2}},"y2":{"datum":-3139},"color":{"condition":{"test":"datum.s>0","value":"#98FB98"},"value":"#FFC0CB"}}},
{"data":{"name":"bars"},"mark":{"type":"bar","size":2},"encoding":{"x":{"field":"i","type":"quantitative"},"y":{"field":"v","type":"quantitative"},"y2":{"datum":0},"color":{"condition":{"test":"datum.v>=0","value":"#2E8B57"},"value":"#FF0000"}}},
{"data":{"name":"bars"},"mark":{"type":"line","color":"#FFA500","strokeWidth":2},"encoding":{"x":{"field":"i","type":"quantitative"},"y":{"field":"m","type":"quantitative"}}},
{"data":{"name":"upm"},"mark":{"type":"point","shape":"triangle-up","filled":true,"color":"#008000","opacity":1,"size":30},"encoding":{"x":{"field":"i","type":"quantitative"},"y":{"field":"v","type":"quantitative"}}},
{"data":{"name":"downm"},"mark":{"type":"point","shape":"triangle-down","filled":true,"color":"#FF0000","opacity":1,"size":30},"encoding":{"x":{"field":"i","type":"quantitative"},"y":{"field":"v","type":"quantitative"}}},
{"data":{"values":[{"a":0.5,"b":23,"t":3440,"u":2920}]},"mark":{"type":"rect","fill":"#FFFFFF"},"encoding":{"x":{"field":"a","type":"quantitative"},"x2":{"field":"b"},"y":{"field":"t","type":"quantitative"},"y2":{"field":"u"}}},
{"data":{"values":[{"i":0.8,"v":3180,"n":"VeMAs mt5 0 0"}]},"mark":{"type":"text","font":"Liberation Sans","fontSize":11,"color":"#333333","align":"left"},"encoding":{"x":{"field":"i","type":"quantitative"},"y":{"field":"v","type":"quantitative"},"text":{"field":"n"}}},
{"data":{"values":[{"i":418.8,"v":-2770}]},"mark":{"type":"point","shape":"circle","fill":"#FFFFFF","stroke":"#3A3A3A","strokeWidth":3,"opacity":1,"size":254},"encoding":{"x":{"field":"i","type":"quantitative"},"y":{"field":"v","type":"quantitative"}}},
{"data":{"values":[{"i":418.8,"v":-2770}]},"mark":{"type":"point","shape":"M-1,0 L1,0 M0,-1 L0,1","stroke":"#3A3A3A","strokeWidth":3,"opacity":1,"size":100},"encoding":{"x":{"field":"i","type":"quantitative"},"y":{"field":"v","type":"quantitative"}}},
{"data":{"values":[{"i":421.4,"v":-3180}]},"mark":{"type":"point","shape":"M-1,-1 L1,1","stroke":"#3A3A3A","strokeWidth":4,"opacity":1,"size":36},"encoding":{"x":{"field":"i","type":"quantitative"},"y":{"field":"v","type":"quantitative"}}}
]}]}
